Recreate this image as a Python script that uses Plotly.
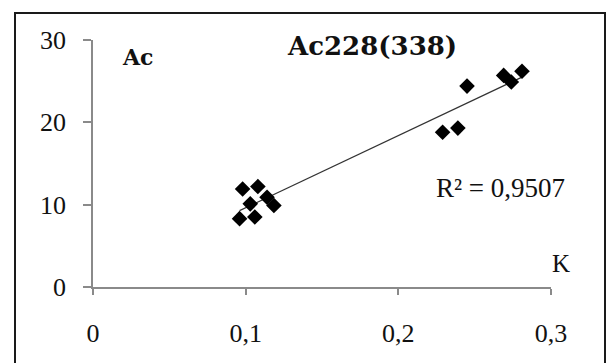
import numpy as np
import plotly.graph_objects as go

# Data
k_values = [0.096, 0.106, 0.098, 0.108, 0.103, 0.114, 0.1185, 0.229, 0.239, 0.245, 0.269, 0.274, 0.281]
ac_values = [8.3, 8.5, 11.9, 12.2, 10.1, 10.9, 9.9, 18.8, 19.3, 24.4, 25.7, 24.9, 26.2]
x_tick_vals = [0, 0.1, 0.2, 0.3]
x_tick_text = ["0", "0,1", "0,2", "0,3"]
y_tick_vals = [0, 10, 20, 30]
title_text = "Ac228(338)"
r2_text = "R² = 0,9507"

# linear trend line over the data range
slope, intercept = np.polyfit(k_values, ac_values, 1)
trend_x = [min(k_values), max(k_values)]
trend_y = [slope * v + intercept for v in trend_x]

FONT = "Liberation Serif"
BFONT = "DejaVu Serif"
AXC = "#8a8a8a"

fig = go.Figure()
fig.add_trace(go.Scatter(x=trend_x, y=trend_y, mode="lines",
                         line=dict(color="#333333", width=1.2), showlegend=False,
                         hoverinfo="skip"))
fig.add_trace(go.Scatter(x=k_values, y=ac_values, mode="markers",
                         marker=dict(symbol="diamond", size=12, color="#000000",
                                     line=dict(width=0)),
                         showlegend=False))

W, H = 606, 363
L, R, T, B = 93, 55, 40, 76
pw, ph = W - L - R, H - T - B

def px_x(p):
    return (p - L) / pw

def px_y(p):
    return (H - B - p) / ph

fig.update_layout(
    width=W, height=H,
    margin=dict(l=L, r=R, t=T, b=B, pad=0),
    paper_bgcolor="white", plot_bgcolor="white",
    font=dict(family=FONT, color="#111111"),
    xaxis=dict(range=[0, 0.3], tickvals=x_tick_vals, ticktext=x_tick_text,
               showline=True, linecolor=AXC, linewidth=1.5,
               ticks="outside", ticklen=6, tickwidth=1.5, tickcolor=AXC,
               showgrid=False, zeroline=False,
               tickfont=dict(family=FONT, size=26, color="#111111"),
               ticklabelstandoff=16),
    yaxis=dict(range=[0, 30], tickvals=y_tick_vals,
               showline=True, linecolor=AXC, linewidth=1.5,
               ticks="outside", ticklen=8, tickwidth=1.5, tickcolor=AXC,
               showgrid=False, zeroline=False,
               tickfont=dict(family=FONT, size=26, color="#111111"),
               ticklabelstandoff=12),
    shapes=[dict(type="rect", xref="paper", yref="paper",
                 x0=px_x(15), x1=px_x(605), y0=px_y(400), y1=px_y(13),
                 line=dict(color="#1a1a1a", width=2), fillcolor="rgba(0,0,0,0)",
                 layer="above")],
    annotations=[
        dict(text=title_text, xref="paper", yref="paper", x=px_x(372), y=px_y(46),
             xanchor="center", yanchor="middle", showarrow=False,
             font=dict(family=BFONT, size=26, color="#111111", weight="bold")),
        dict(text="Ac", xref="paper", yref="paper", x=px_x(137), y=px_y(57),
             xanchor="center", yanchor="middle", showarrow=False,
             font=dict(family=BFONT, size=22, color="#111111", weight="bold")),
        dict(text="K", xref="paper", yref="paper", x=px_x(561), y=px_y(263),
             xanchor="center", yanchor="middle", showarrow=False,
             font=dict(family=FONT, size=25, color="#111111")),
        dict(text=r2_text, xref="paper", yref="paper", x=px_x(500), y=px_y(188),
             xanchor="center", yanchor="middle", showarrow=False,
             font=dict(family=FONT, size=27, color="#111111")),
    ],
)

fig.write_html("out.html")
